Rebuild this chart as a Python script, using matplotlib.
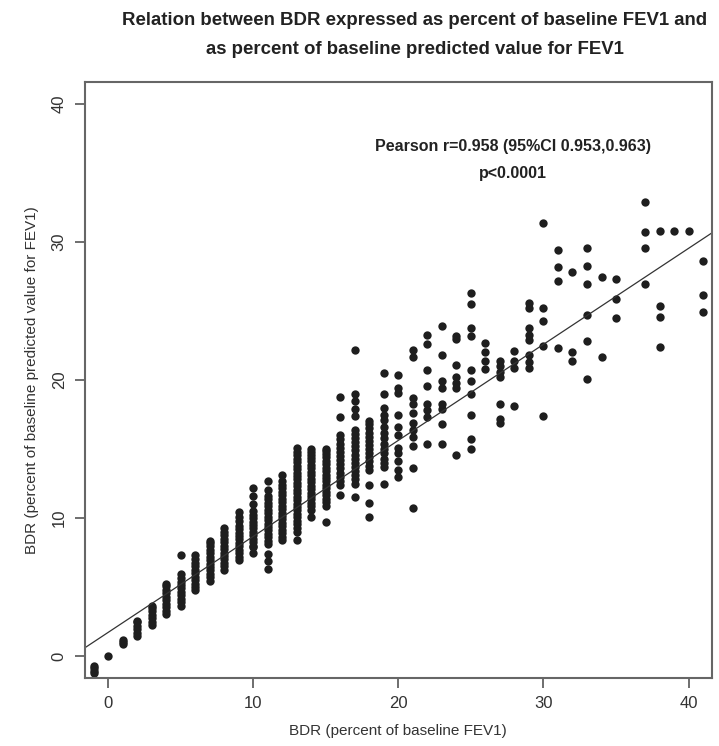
import matplotlib
matplotlib.use("Agg")
import matplotlib.pyplot as plt
import numpy as np

# BDR as % of baseline FEV1 (x) vs BDR as % of predicted FEV1 (y), one column per x value
col_x = [-1, 0, 1, 2, 3, 4, 5, 6, 7, 8, 9, 10, 11, 12, 13, 14, 15, 16, 17, 18, 19, 20,
         21, 22, 23, 24, 25, 26, 27, 28, 29, 30, 31, 32, 33, 34, 35, 37, 38, 39, 40, 41]
col_y = [
    [-0.7, -0.9, -1.05, -1.2],
    [0.0],
    [0.85, 1.0, 1.15],
    [1.45, 1.7, 1.95, 2.2, 2.45, 2.55],
    [2.25, 2.5, 2.75, 3.0, 3.25, 3.5, 3.65],
    [3.05, 3.3, 3.55, 3.8, 4.05, 4.3, 4.55, 4.8, 5.05, 5.25],
    [3.65, 3.9, 4.15, 4.4, 4.65, 4.9, 5.15, 5.4, 5.65, 5.95, 7.3],
    [4.75, 5.0, 5.25, 5.5, 5.75, 6.0, 6.25, 6.5, 6.75, 7.0, 7.35],
    [5.45, 5.7, 5.95, 6.2, 6.45, 6.7, 6.95, 7.2, 7.45, 7.7, 7.95, 8.2, 8.35],
    [6.25, 6.5, 6.75, 7.0, 7.25, 7.5, 7.75, 8.0, 8.25, 8.5, 8.75, 9.0, 9.25],
    [6.95, 7.2, 7.45, 7.7, 7.95, 8.2, 8.45, 8.7, 8.95, 9.2, 9.45, 9.8, 10.1, 10.45],
    [7.45, 7.9, 8.0, 8.25, 8.5, 8.75, 9.0, 9.25, 9.5, 9.75, 10.0, 10.25, 10.5, 11.05, 11.6, 12.2],
    [6.3, 6.9, 7.4, 8.1, 8.35, 8.6, 8.85, 9.1, 9.35, 9.6, 9.85, 10.1, 10.35, 10.6, 10.85,
     11.1, 11.4, 11.6, 12.0, 12.7],
    [8.4, 8.65, 8.9, 9.15, 9.4, 9.65, 9.9, 10.15, 10.4, 10.65, 10.9, 11.15, 11.4, 11.65,
     11.9, 12.15, 12.4, 12.7, 13.1],
    [8.4, 9.0, 9.3, 9.55, 9.8, 10.05, 10.3, 10.55, 10.8, 11.05, 11.3, 11.55, 11.8, 12.05,
     12.3, 12.55, 12.8, 13.05, 13.3, 13.55, 13.8, 14.05, 14.3, 14.6, 14.8, 15.1],
    [10.1, 10.6, 10.85, 11.1, 11.35, 11.6, 11.85, 12.1, 12.35, 12.6, 12.85, 13.1, 13.35,
     13.6, 13.85, 14.1, 14.35, 14.6, 14.8, 15.0],
    [9.7, 10.9, 11.15, 11.4, 11.65, 11.9, 12.15, 12.4, 12.65, 12.9, 13.15, 13.4, 13.65,
     13.9, 14.15, 14.4, 14.65, 14.85, 15.0],
    [11.7, 12.4, 12.7, 13.0, 13.3, 13.6, 13.9, 14.2, 14.5, 14.8, 15.1, 15.4, 15.7, 16.0,
     17.3, 18.8],
    [11.5, 12.5, 12.8, 13.1, 13.4, 13.7, 14.0, 14.3, 14.6, 14.9, 15.2, 15.5, 15.8, 16.1,
     16.4, 17.4, 17.9, 18.5, 19.0, 22.2],
    [10.1, 11.1, 12.4, 13.5, 13.8, 14.1, 14.4, 14.7, 15.0, 15.3, 15.6, 15.9, 16.2, 16.5,
     16.8, 17.0],
    [12.5, 13.7, 14.0, 14.3, 14.7, 15.0, 15.4, 15.8, 16.2, 16.6, 17.1, 17.5, 18.0, 19.0,
     20.5],
    [13.0, 13.5, 14.1, 14.7, 15.1, 16.0, 16.6, 17.5, 19.1, 19.4, 20.4],
    [10.7, 13.6, 15.2, 15.9, 16.4, 16.9, 17.6, 18.3, 18.7, 21.7, 22.2],
    [15.4, 17.3, 17.8, 18.3, 19.6, 20.7, 22.6, 23.3],
    [15.4, 16.8, 17.9, 18.3, 19.4, 19.9, 21.8, 23.9],
    [14.6, 19.4, 19.8, 20.2, 21.1, 23.0, 23.2],
    [15.0, 15.7, 17.5, 19.0, 19.9, 20.7, 23.2, 23.8, 25.5, 26.3],
    [20.8, 21.4, 22.0, 22.7],
    [16.9, 17.2, 18.3, 20.2, 20.6, 21.0, 21.4],
    [18.1, 20.9, 21.4, 22.1],
    [20.9, 21.3, 21.8, 22.9, 23.3, 23.8, 25.2, 25.6],
    [17.4, 22.5, 24.3, 25.2, 31.4],
    [22.3, 27.2, 28.2, 29.4],
    [21.4, 22.0, 27.8],
    [20.1, 22.8, 24.7, 27.0, 28.3, 29.6],
    [21.7, 27.5],
    [24.5, 25.9, 27.3],
    [27.0, 29.6, 30.7, 32.9],
    [22.4, 24.6, 25.4, 30.8],
    [30.8],
    [30.8],
    [24.9, 26.2, 28.6],
]

# fitted line
fit_intercept = 1.71
fit_slope = 0.696

x_ticks = [0, 10, 20, 30, 40]
y_ticks = [0, 10, 20, 30, 40]

plt.rcParams['font.family'] = ['Liberation Sans', 'DejaVu Sans']

fig = plt.figure(figsize=(7.19, 7.46), dpi=100)
ax = fig.add_axes([0.118, 0.091, 0.872, 0.799])

xs = np.concatenate([[x] * len(ys) for x, ys in zip(col_x, col_y)])
ys = np.concatenate(col_y)
ax.plot(xs, ys, 'o', color='#1e1e1e', markersize=6.0, markeredgewidth=0)

ax.axline((0, fit_intercept), slope=fit_slope, color='#333333', linewidth=0.9)

ax.set_xlim(-1.6, 41.6)
ax.set_ylim(-1.6, 41.6)
ax.set_xticks(x_ticks)
ax.set_yticks(y_ticks)
ax.tick_params(direction='out', length=7, width=1.2, color='#555555',
               labelsize=12, labelcolor='#333333', pad=6)
for lab in ax.get_yticklabels():
    lab.set_rotation(90)
    lab.set_va('center')
for sp in ax.spines.values():
    sp.set_color('#666666')
    sp.set_linewidth(1.5)

ax.set_xlabel('BDR (percent of baseline FEV1)', fontsize=11, color='#333333', labelpad=9)
ax.set_ylabel('BDR (percent of baseline predicted value for FEV1)', fontsize=11,
              color='#333333', labelpad=9)

ax.text(27.9, 36.9, 'Pearson r=0.958 (95%CI 0.953,0.963)', ha='center', va='center',
        fontsize=11.5, fontweight='bold', color='#222222')
ax.text(27.9, 35.0, 'p<0.0001', ha='center', va='center',
        fontsize=11.5, fontweight='bold', color='#222222')

fig.text(0.577, 0.973, 'Relation between BDR expressed as percent of baseline FEV1 and',
         ha='center', va='center', fontsize=13.4, fontweight='bold', color='#222222')
fig.text(0.577, 0.933, 'as percent of baseline predicted value for FEV1',
         ha='center', va='center', fontsize=13.4, fontweight='bold', color='#222222')

fig.savefig('out.png', dpi=100)
